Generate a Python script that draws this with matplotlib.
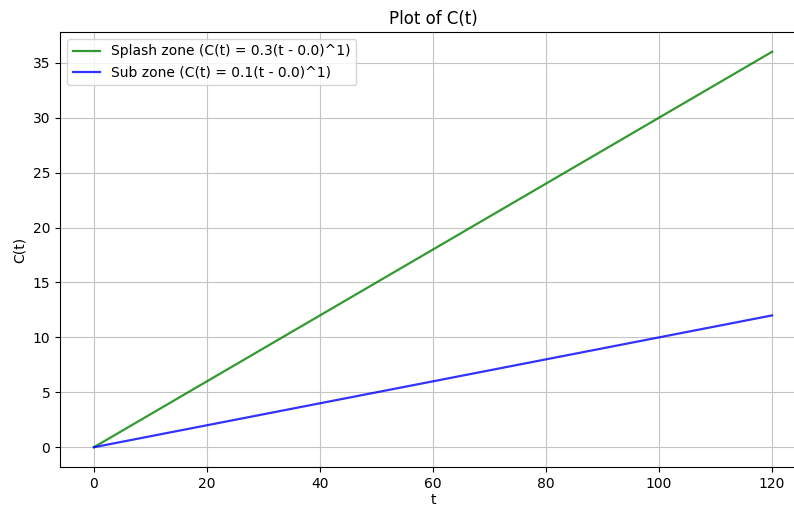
import matplotlib
matplotlib.use('Agg')
import matplotlib.pyplot as plt
import numpy as np

t_values = [0, 20, 40, 60, 80, 100, 120]
splash_values = [0, 6, 12, 18, 24, 30, 36]
sub_values = [0, 2, 4, 6, 8, 10, 12]

fig = plt.figure(figsize=(7.94, 5.07), dpi=100)
# axes extends past right edge like the cropped original
ax = fig.add_axes([60 / 794, 1 - 467 / 507, 746 / 794, 435 / 507])

ax.plot(t_values, splash_values, 'g', alpha=0.8, linewidth=1.6,
        label='Splash zone (C(t) = 0.3(t - 0.0)^1)')
ax.plot(t_values, sub_values, 'b', alpha=0.8, linewidth=1.6,
        label='Sub zone (C(t) = 0.1(t - 0.0)^1)')

ax.set_title('Plot of C(t)')
ax.set_xlabel('t', labelpad=2)
ax.set_ylabel('C(t)')
ax.set_xlim(-6, 126)
ax.set_ylim(-1.8, 37.8)
ax.grid(True, color='#c4c4c4')
ax.legend(loc='upper left')

fig.savefig('out.png', dpi=100)
